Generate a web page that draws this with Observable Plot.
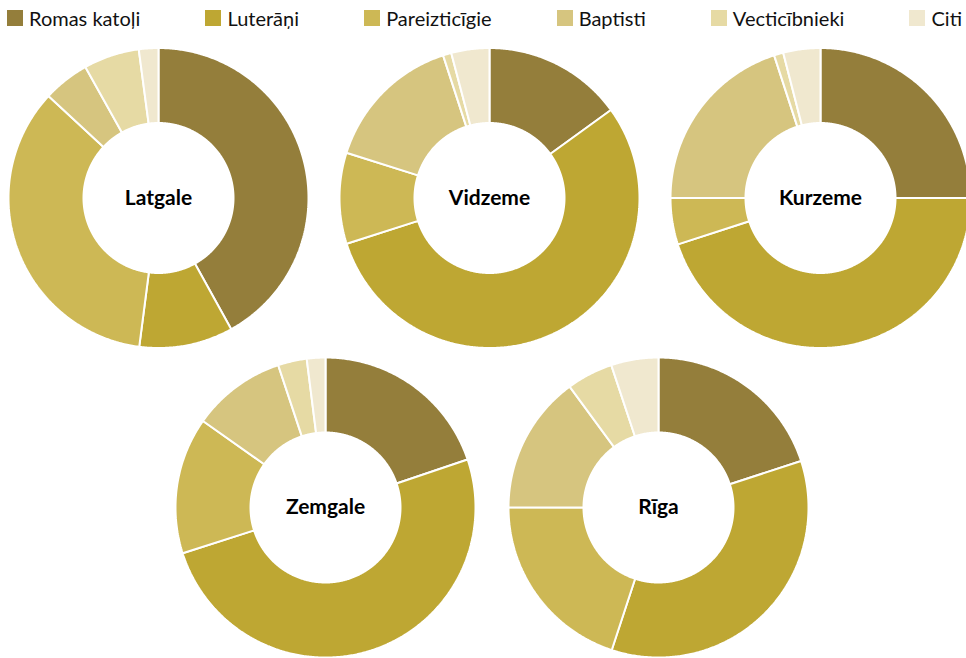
<!DOCTYPE html>
<html><head><meta charset="utf-8">
<script src="https://cdn.jsdelivr.net/npm/d3@7"></script>
<script src="https://cdn.jsdelivr.net/npm/@observablehq/plot@0.6"></script>
<style>
body{margin:0;background:#fff;font-family:Lato, sans-serif;}
#legend{display:flex;justify-content:space-between;height:36px;align-items:center;padding:0 4px 0 7px;width:966px;box-sizing:border-box;}
.item{display:flex;align-items:center;font-size:20px;color:#111;white-space:nowrap;}
.sw{width:16px;height:16px;margin-right:6px;flex:none;}
#chart svg{display:block;}
</style></head><body><div id="legend"></div><div id="chart"></div>
<script>
const categories = ["Romas katoļi","Luterāņi","Pareizticīgie","Baptisti","Vecticībnieki","Citi"];
const colors = ["#947e3b","#bea733","#cdb855","#d6c57f","#e6daa4","#f0e8cf"];
const regions = ["Latgale","Vidzeme","Kurzeme","Zemgale","Rīga"];
const latgale = [41.9, 10.1, 34.8, 5.0, 6.0, 2.1];
const vidzeme = [15.0, 55.0, 9.8, 15.1, 0.9, 4.1];
const kurzeme = [25.0, 45.0, 5.0, 20.0, 1.0, 4.0];
const zemgale = [19.8, 50.2, 14.7, 10.1, 3.1, 2.0];
const riga    = [20.0, 35.1, 20.0, 14.9, 5.0, 5.1];
const shares = [latgale, vidzeme, kurzeme, zemgale, riga];

// legend
const lg = d3.select("#legend");
categories.forEach((c, i) => {
  const it = lg.append("div").attr("class", "item");
  it.append("div").attr("class", "sw").style("background", colors[i]);
  it.append("span").text(c);
});

// layout
const W = 966, H = 658, legendH = 36;
const R = 150, r = 75;
const colStep = 331, rowTop = 197.5, rowBottom = 507;
const centers = regions.map((_, i) => {
  if (i < 3) return [R + 8 + i * colStep, rowTop];
  const mid = (R + 8 + colStep) + 2.5;
  const j = i - 3;
  return [mid + (j - 0.5) * 333, rowBottom];
});

// slice polygons
const pts = [];
shares.forEach((vals, ri) => {
  const total = d3.sum(vals);
  const [cx, cy] = centers[ri];
  let cum = 0;
  vals.forEach((v, ci) => {
    const a0 = cum / total * 2 * Math.PI;
    cum += v;
    const a1 = cum / total * 2 * Math.PI;
    const n = Math.max(2, Math.ceil((a1 - a0) / (Math.PI / 360)));
    const id = regions[ri] + "|" + categories[ci];
    const ring = [];
    for (let k = 0; k <= n; k++) {
      const t = a0 + (a1 - a0) * k / n;
      ring.push([cx + R * Math.sin(t), cy - R * Math.cos(t)]);
    }
    for (let k = n; k >= 0; k--) {
      const t = a0 + (a1 - a0) * k / n;
      ring.push([cx + r * Math.sin(t), cy - r * Math.cos(t)]);
    }
    ring.push(ring[0]);
    ring.forEach(([x, y]) => pts.push({x, y, id, cat: categories[ci]}));
  });
});

const labels = regions.map((name, i) => ({name, x: centers[i][0], y: centers[i][1]}));

const chart = Plot.plot({
  width: W,
  height: H - legendH,
  margin: 0,
  style: {fontFamily: "Lato, sans-serif", background: "#fff"},
  x: {domain: [0, W], range: [0, W], axis: null},
  y: {domain: [legendH, H], range: [0, H - legendH], axis: null},
  color: {domain: categories, range: colors},
  marks: [
    Plot.line(pts, {x: "x", y: "y", z: "id", fill: "cat", stroke: "white", strokeWidth: 2, curve: "linear", strokeLinejoin: "miter"}),
    Plot.text(labels, {x: "x", y: "y", text: "name", fontWeight: "bold", fontSize: 21, fill: "#000"})
  ]
});
document.getElementById("chart").appendChild(chart);
</script></body></html>
